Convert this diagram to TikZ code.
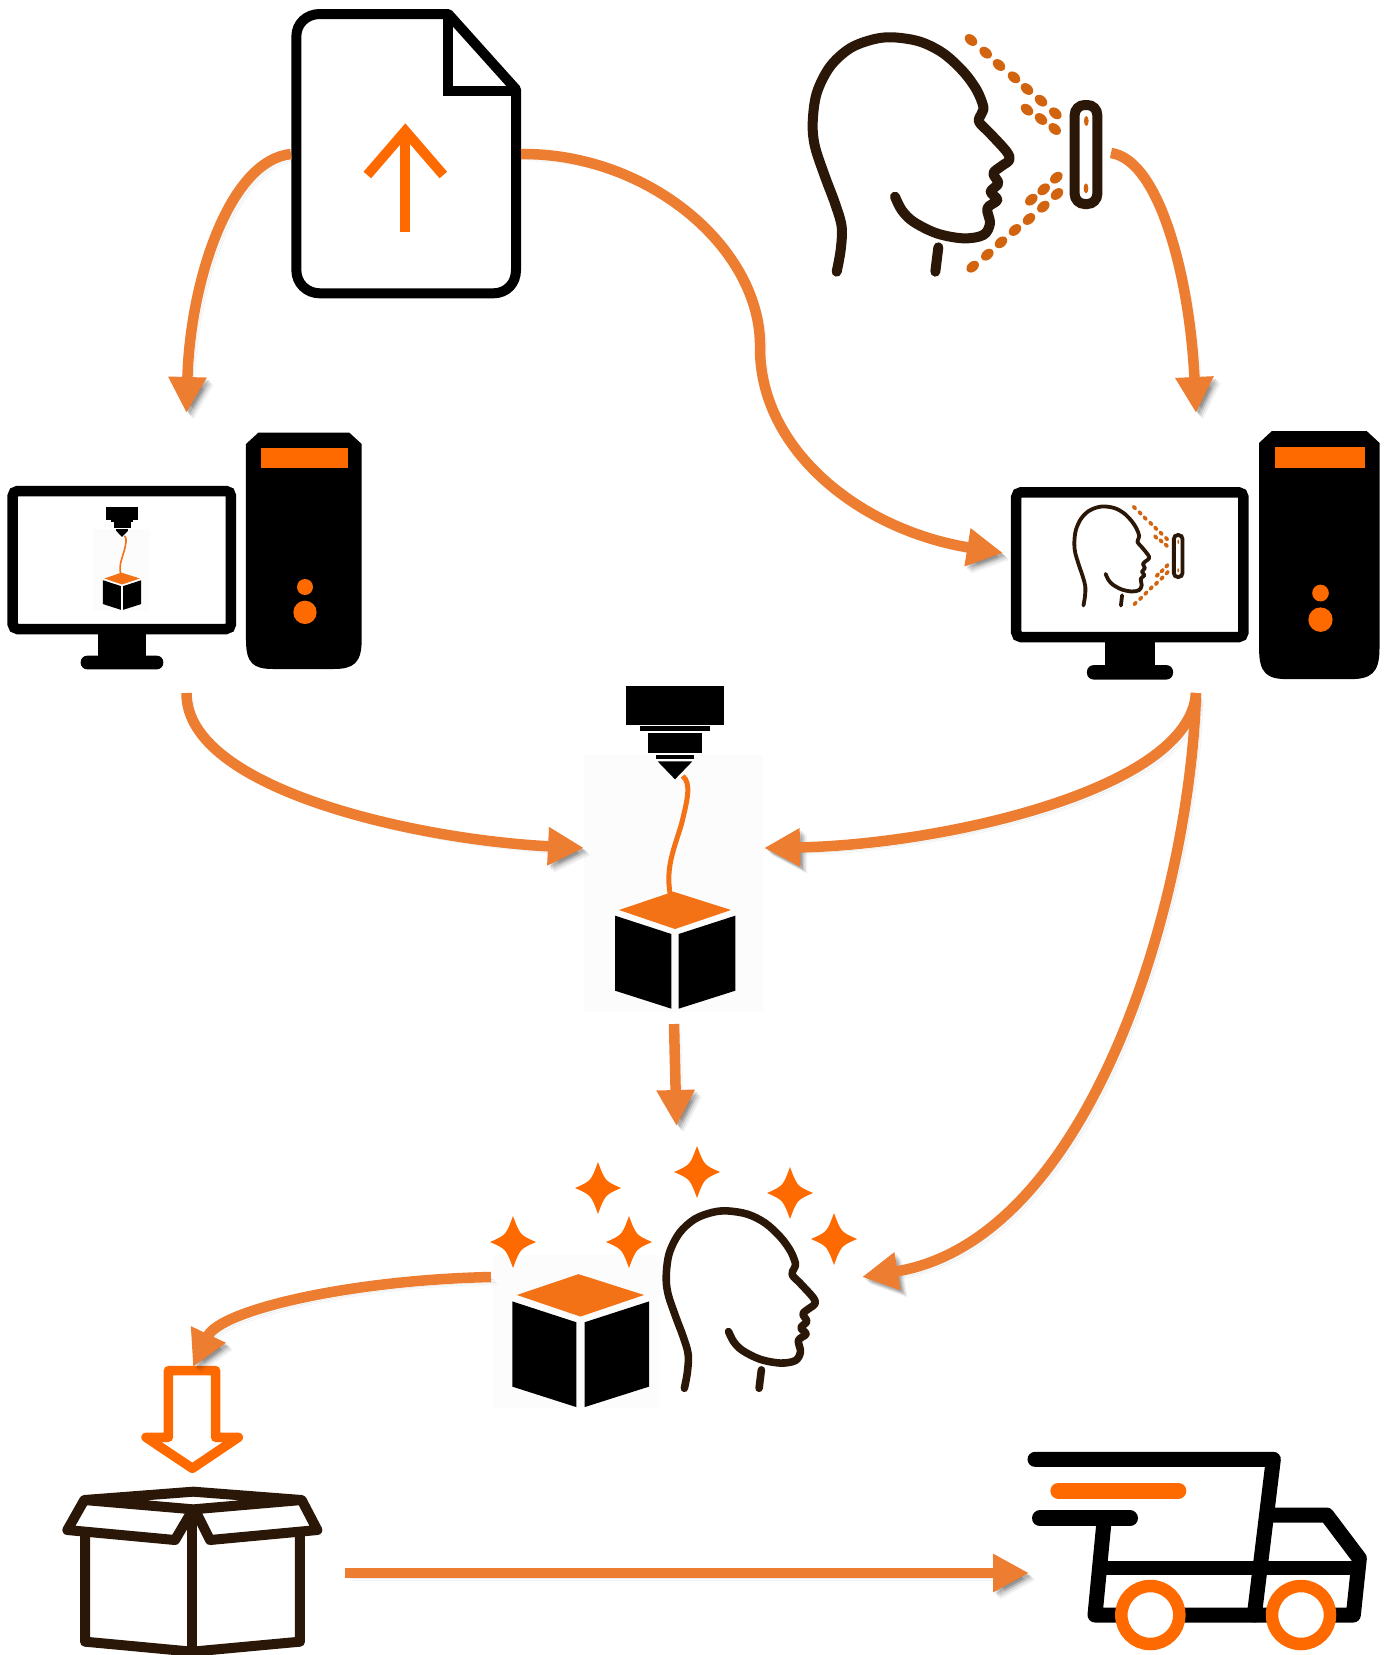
\documentclass[tikz,border=0pt]{standalone}
\usepackage{xcolor}
\usetikzlibrary{arrows.meta}
\definecolor{flowc}{HTML}{ED7D31}
\definecolor{hot}{HTML}{FF6A00}
\definecolor{lid}{HTML}{F47216}
\definecolor{ink}{HTML}{2B1708}
\definecolor{dotc}{HTML}{D2640F}

\newcommand{\cubeicon}[3]{
  \begin{scope}[shift={(#1,#2)},scale=#3/3]
    \fill[lid] (310,635)--(483,690)--(315,747)--(147,690)--cycle;
    \fill[black] (135,707)--(304,762)--(304,986)--(135,932)--cycle;
    \fill[black] (326,762)--(496,707)--(496,932)--(326,986)--cycle;
  \end{scope}}
\newcommand{\printicon}[3]{
  \begin{scope}[shift={(#1,#2)},scale=#3/3]
    \fill[white!99!black] (42,225) rectangle (580,995);
    \fill[black] (167,18) rectangle (463,134);
    \fill[black] (209,139) rectangle (421,153);
    \fill[black] (235,158) rectangle (395,218);
    \fill[black] (258,224) rectangle (372,238);
    \fill[black] (263,244)--(367,244)--(315,298)--cycle;
    \draw[lid,line width=#3*5pt] (338,288) .. controls (365,310) and (352,360) .. (335,430) .. controls (315,500) and (285,560) .. (301,645);
  \end{scope}
  \cubeicon{#1}{#2}{#3}}
\newcommand{\headicon}[3]{
  \begin{scope}[shift={(#1,#2)},scale=#3/3]
    \draw[ink,line width=#3*10pt,line cap=round,line join=round] plot[smooth,tension=.55] coordinates {(170,785) (182,720) (185,650) (165,580) (135,500) (105,410) (98,340) (110,250) (150,170) (210,115) (280,88) (340,82) (420,95) (490,130) (550,185) (590,240) (610,290) (605,310) (597,335) (630,370) (680,425) (688,450) (665,468) (640,490) (655,520) (632,545) (652,570) (622,595) (630,640) (610,675) (550,685) (470,670) (400,635) (365,600) (345,560)};
    \draw[ink,line width=#3*10pt,line cap=round] (475,712)--(466,785);
  \end{scope}}
\newcommand{\scanicon}[3]{
  \headicon{#1}{#2}{#3}
  \begin{scope}[shift={(#1,#2)},scale=#3/3]
    \foreach \a/\b in {573/90,617/128,657/165,702/202,741/237,783/272,826/310,741/299,783/327,824/357}
      \fill[dotc,shift={(\a,\b)},rotate=-40] (0,0) circle[x radius=21,y radius=15];
    \foreach \a/\b in {829/503,791/538,754/569,831/552,790/590,747/627,705/660,663/697,622/734,578/770}
      \fill[dotc,shift={(\a,\b)},rotate=40] (0,0) circle[x radius=21,y radius=15];
    \draw[ink,line width=#3*10pt,rounded corners=#3*10pt] (884,285) rectangle (952,582);
    \fill[dotc] (919,333) circle[x radius=7,y radius=15];
    \fill[dotc] (918,535) circle[x radius=7,y radius=15];
  \end{scope}}
\newcommand{\pcicon}[4]{
  \begin{scope}[shift={(#1,#2)},xscale=#3/3,yscale=#4/3]
    \draw[black,fill=white,line width=10.5pt,rounded corners=5pt] (38,213) rectangle (693,627);
    \fill[black] (295,630) rectangle (437,712);
    \fill[black,rounded corners=6.5pt] (242,707) rectangle (490,748);
    \fill[black] (775,38)--(1048,38)--(1085,72)--(1085,660) .. controls (1085,730) and (1060,747) .. (1000,747) -- (820,747) .. controls (760,747) and (738,730) .. (738,660) -- (738,72) -- cycle;
    \fill[hot] (784,85) rectangle (1043,145);
    \fill[hot] (915,501) circle[radius=24];
    \fill[hot] (915,577) circle[radius=35];
  \end{scope}}

\begin{document}
\begin{tikzpicture}[x=1pt, y=-1pt, thick,
    main/.style = {inner sep=0pt, outer sep=0pt},
    flow/.style = {draw=flowc, line width=10.5pt, -{Triangle[length=36pt,width=36pt]},
      preaction={draw=black, opacity=.05, transform canvas={xshift=7pt,yshift=-7pt}},
      preaction={draw=black, opacity=.08, transform canvas={xshift=5.5pt,yshift=-5.5pt}},
      preaction={draw=black, opacity=.10, transform canvas={xshift=4pt,yshift=-4pt}},
      preaction={draw=black, opacity=.12, transform canvas={xshift=2.5pt,yshift=-2.5pt}}}]
    \useasboundingbox[fill=white] (0,0) rectangle (1389,1655);

    \node[main, minimum width=230pt, minimum height=288pt] (doc) at (406,154) {};
    \node[main, minimum width=303pt, minimum height=246pt] (scan) at (959.5,153) {};
    \node[main, minimum width=356pt, minimum height=280pt] (pcl) at (186.5,553) {};
    \node[main, minimum width=386pt, minimum height=280pt] (pcr) at (1196,553) {};
    \node[main, minimum width=180pt, minimum height=352pt] (print) at (674,848) {};
    \node[main, minimum width=371pt, minimum height=302pt] (check) at (676.5,1277) {};
    \node[main, minimum width=100pt, minimum height=104pt] (drop) at (193,1419) {};
    \node[main, minimum width=304pt, minimum height=162pt] (carton) at (193,1573) {};
    \node[main, minimum width=342pt, minimum height=164pt] (truck) at (1200,1573) {};

    % file
    \begin{scope}[shift={(280,0)},scale=1/3]
      \draw[black,line width=10pt,line join=round] (120,42)--(505,42)--(708,268)--(708,810) .. controls (708,850) and (680,880) .. (640,880) -- (120,880) .. controls (80,880) and (49,850) .. (49,810) -- (49,110) .. controls (49,70) and (80,42) .. (120,42) -- cycle;
      \draw[black,line width=10pt] (503,42)--(503,272)--(708,272);
      \draw[hot,line width=10pt] (376,695)--(376,395);
      \draw[hot,line width=10pt,miter limit=4] (262,525)--(376,393)--(490,525);
    \end{scope}

    \scanicon{780}{10}{1}
    \pcicon{0}{420}{1}{1}
    \printicon{88.7}{505.4}{.3176}
    \pcicon{1003}{417.7}{1.041}{1.05}
    \begin{scope}[shift={(1061.9,494.9)},yscale=1.113]
      \scanicon{0}{0}{.38}
    \end{scope}
    \printicon{570}{680}{1}

    % stars
    \fill[white!99!black] (493,1255) rectangle (660,1408);
    \foreach \a/\b in {513/1242,598/1188,629/1242,697/1172,790/1193,834/1239}
      \fill[hot,shift={(\a,\b)}] (0,-26) .. controls (7,-7) .. (23,0) .. controls (7,7) .. (0,26) .. controls (-7,7) .. (-23,0) .. controls (-7,-7) .. (0,-26) -- cycle;
    \cubeicon{461.2}{1033.7}{1.136}
    \headicon{641.5}{1190.2}{.757}

    % carton
    \begin{scope}[shift={(40,1350)},scale=1/3]
      \draw[hot,line width=9.5pt,line join=round] (385,62)--(527,62)--(527,262)--(595,262)--(457,355)--(318,262)--(385,262)--cycle;
      \draw[ink,line width=10pt,line join=round] (133,450)--(460,425)--(785,450)--(460,478)--cycle;
      \draw[ink,line width=10pt,line join=round] (133,450)--(82,540)--(405,570)--(452,490);
      \draw[ink,line width=10pt,line join=round] (785,450)--(832,540)--(510,570)--(470,490);
      \draw[ink,line width=10pt,line join=round] (135,550)--(135,875)--(456,905)--(780,875)--(780,550);
      \draw[ink,line width=10pt] (456,490)--(456,905);
    \end{scope}

    % truck
    \begin{scope}[shift={(1010,1430)},scale=1/3]
      \draw[black,line width=15pt,line cap=round,line join=round] (75,88)--(790,88)--(733,555);
      \draw[black,line width=16pt,line cap=round] (90,265)--(360,265);
      \draw[black,line width=15pt,line join=round] (283,265)--(255,555)--(1030,555)--(1048,385)--(950,255)--(775,255);
      \draw[black,line width=14pt] (275,415)--(1040,415);
      \draw[hot,line width=16pt,line cap=round] (145,182)--(505,182);
      \draw[hot,fill=white,line width=12.5pt] (421,555) circle[radius=87];
      \draw[hot,fill=white,line width=12.5pt] (873,555) circle[radius=87];
    \end{scope}

    \draw[flow] (doc.west) .. controls (230,160) and (190,280) .. (pcl.north);
    \draw[flow] (doc.east) .. controls (650,153) and (762,250) .. (760,348) .. controls (760,450) and (860,530) .. (pcr.west);
    \draw[flow] (scan.east) .. controls (1160,160) and (1190,280) .. (pcr.north);
    \draw[flow] (pcl.south) .. controls (186,790) and (420,840) .. (print.west);
    \draw[flow] (pcr.south) .. controls (1190,790) and (940,845) .. (print.east);
    \draw[flow] (pcr.south) .. controls (1190,900) and (1090,1240) .. (check.east);
    \draw[flow] (print.south) -- (check.north);
    \draw[flow] (check.west) .. controls (350,1280) and (220,1310) .. (drop.north);
    \draw[flow] (carton.east) -- (truck.west);
\end{tikzpicture}
\end{document}
